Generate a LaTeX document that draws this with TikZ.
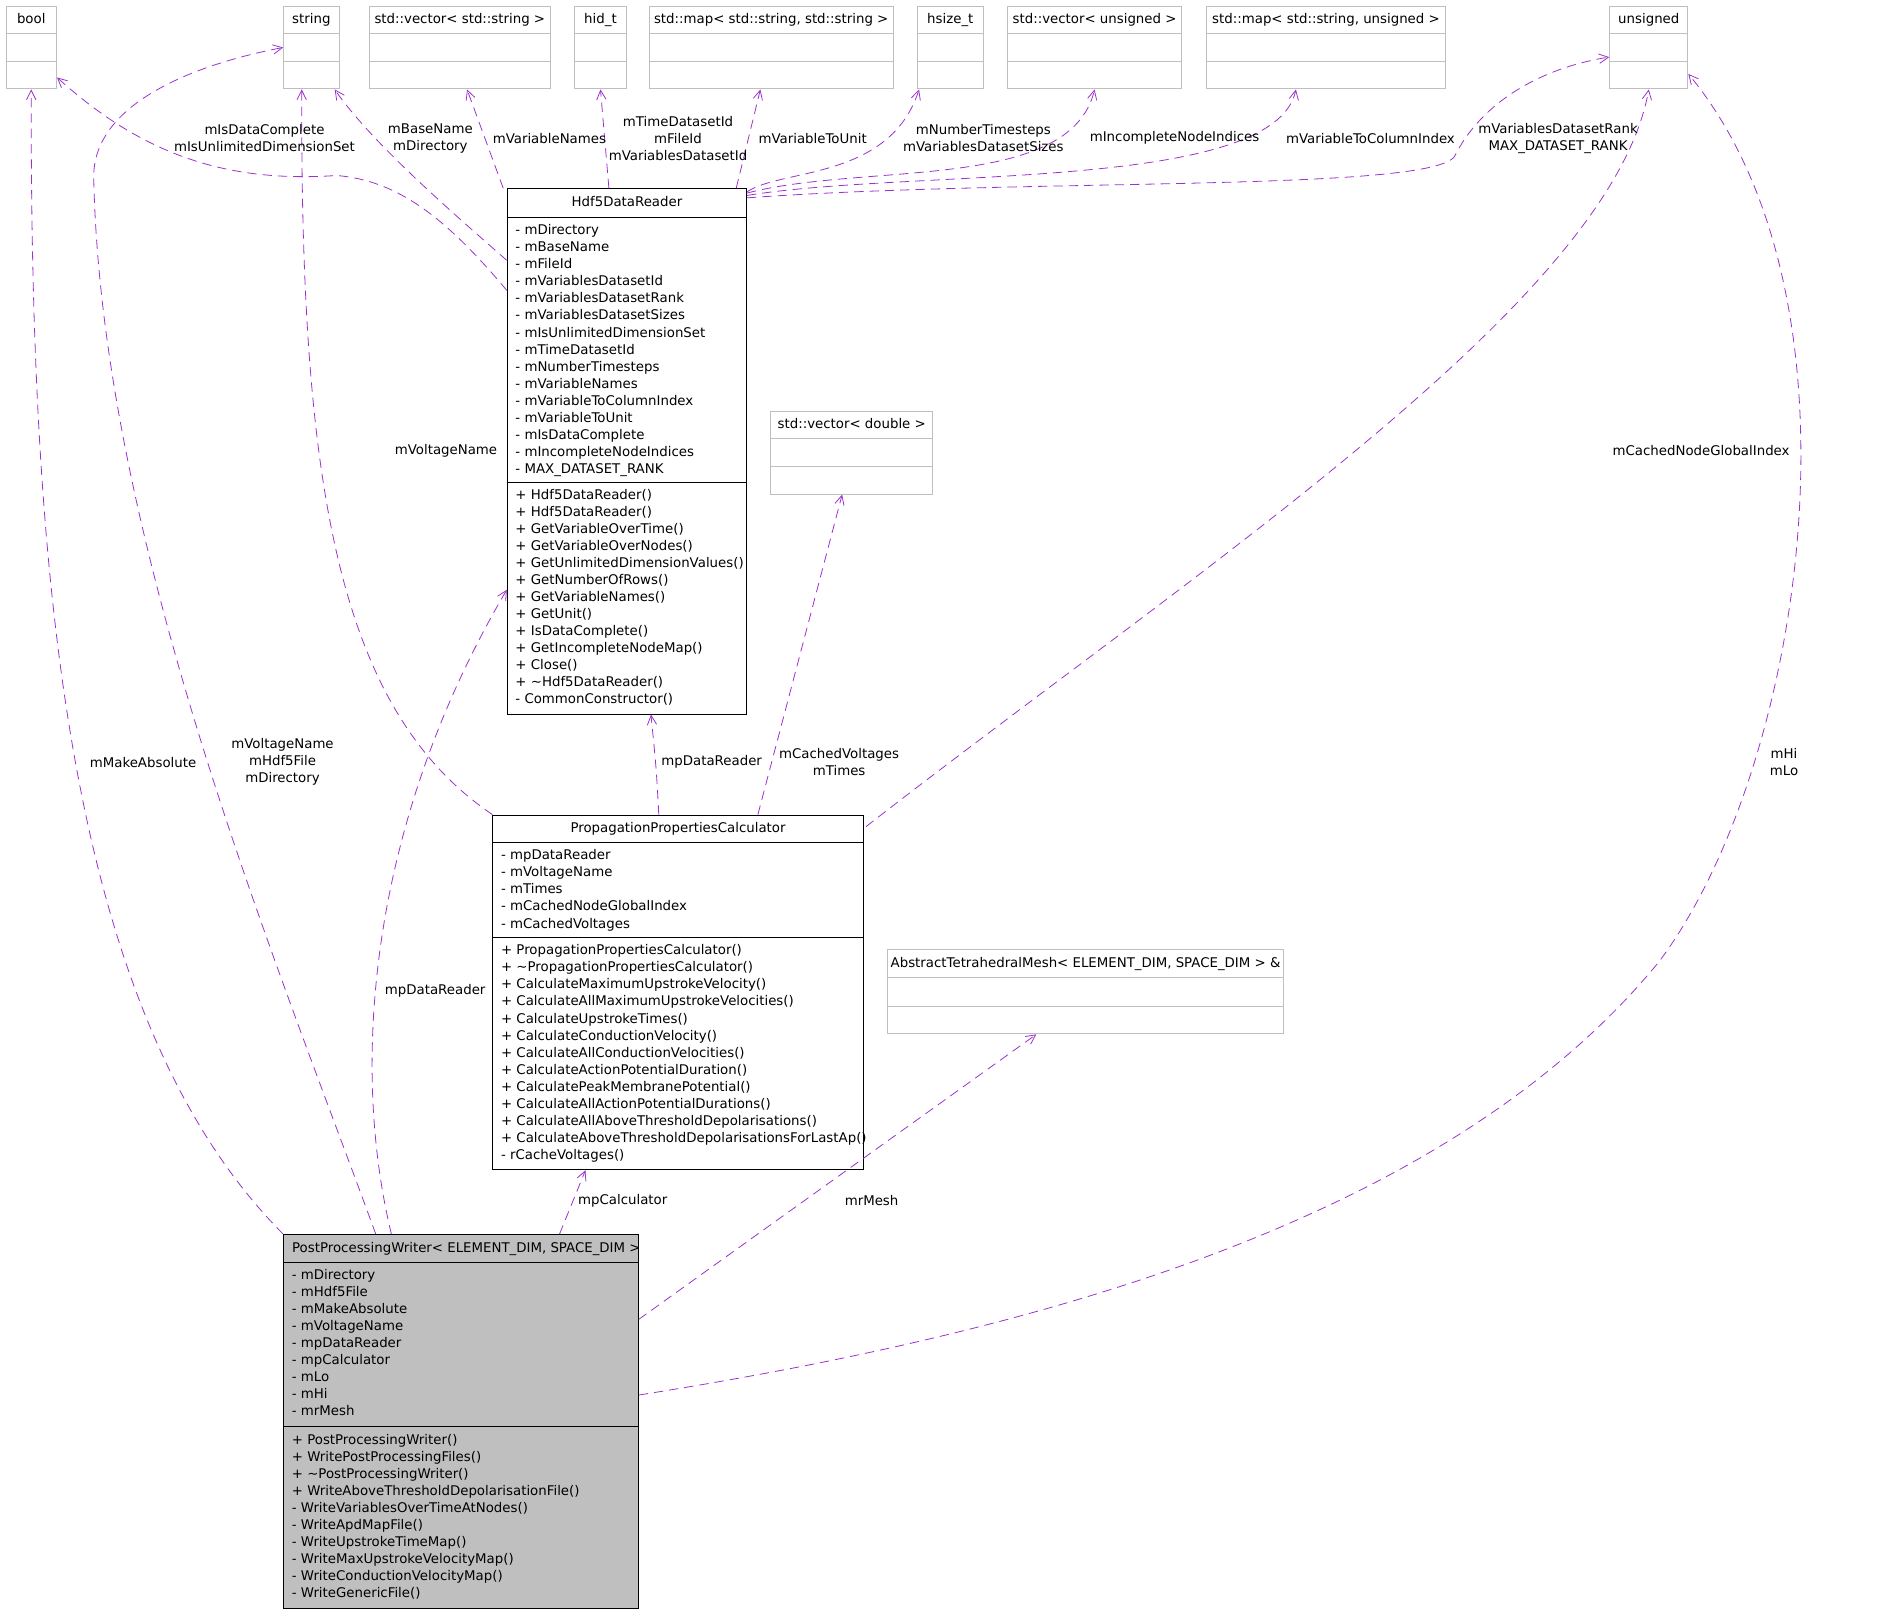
\documentclass[tikz,border=0pt]{standalone}
\usepackage{fontspec}
\setmainfont{DejaVu Sans}
\usetikzlibrary{arrows.meta,positioning,fit,calc}
\definecolor{depcol}{HTML}{9A32CD}
\definecolor{classgray}{HTML}{BFBFBF}
\newcommand{\umlclass}[9][extcls]{%
  \node[#1,fit={(#3) (#4)},inner sep=0pt,line width=0.75pt] (#2) {};
  \draw[#1 rule,line width=0.75pt] (#2.west |- 0,#5) -- (#2.east |- 0,#5);
  \draw[#1 rule,line width=0.75pt] (#2.west |- 0,#6) -- (#2.east |- 0,#6);
  \node[hdr] (#2-h) at ($(#2.north)+(0,15)$) {#7};
  \node[members] (#2-a) at (#2.west |- 0,#5) {#8};
  \node[members] (#2-m) at (#2.west |- 0,#6) {#9};
}

\begin{document}
\begin{tikzpicture}[x=0.9017pt,y=-0.9017pt,
  every node/.style={font=\fontsize{10}{12.8}\selectfont},
  extcls/.style={draw=classgray,fill=white},
  extcls rule/.style={draw=classgray},
  cls/.style={draw=black,fill=white},
  cls rule/.style={draw=black},
  maincls/.style={draw=black,fill=classgray},
  maincls rule/.style={draw=black},
  hdr/.style={anchor=base,inner sep=0pt},
  members/.style={anchor=north west,align=left,inner xsep=6.3pt,inner ysep=5pt},
  dep/.style={draw=depcol,dash pattern=on 7pt off 4.5pt,line width=0.6pt,-{Straight Barb[length=7pt,width=7pt]}},
  lbl/.style={align=center,inner sep=0pt}]
\useasboundingbox (0,0) rectangle (1568,1342);

\umlclass{bool}{5,5}{47,74}{28}{51}{bool}{}{}
\umlclass{string}{236,5}{282,74}{28}{51}{string}{}{}
\umlclass{vecstr}{307,5}{458,74}{28}{51}{std::vector< std::string >}{}{}
\umlclass{hidt}{478,5}{521,74}{28}{51}{hid\_t}{}{}
\umlclass{mapss}{540,5}{743,74}{28}{51}{std::map< std::string, std::string >}{}{}
\umlclass{hsize}{763,5}{818,74}{28}{51}{hsize\_t}{}{}
\umlclass{vecu}{838,5}{983,74}{28}{51}{std::vector< unsigned >}{}{}
\umlclass{mapsu}{1004,5}{1202,74}{28}{51}{std::map< std::string, unsigned >}{}{}
\umlclass{unsig}{1339,5}{1404,74}{28}{51}{unsigned}{}{}
\umlclass{vecdbl}{641,342}{776,411}{365}{388}{std::vector< double >}{}{}
\umlclass{mesh}{738,790}{1068,860}{813}{837}{AbstractTetrahedralMesh< ELEMENT\_DIM, SPACE\_DIM > \&}{}{}

\umlclass[cls]{hdf}{422,157}{621,594}{181}{401}{Hdf5DataReader}{%
- mDirectory\\- mBaseName\\- mFileId\\- mVariablesDatasetId\\- mVariablesDatasetRank\\%
- mVariablesDatasetSizes\\- mIsUnlimitedDimensionSet\\- mTimeDatasetId\\- mNumberTimesteps\\%
- mVariableNames\\- mVariableToColumnIndex\\- mVariableToUnit\\- mIsDataComplete\\%
- mIncompleteNodeIndices\\- MAX\_DATASET\_RANK}{%
+ Hdf5DataReader()\\+ Hdf5DataReader()\\+ GetVariableOverTime()\\+ GetVariableOverNodes()\\%
+ GetUnlimitedDimensionValues()\\+ GetNumberOfRows()\\+ GetVariableNames()\\+ GetUnit()\\%
+ IsDataComplete()\\+ GetIncompleteNodeMap()\\+ Close()\\+ \textasciitilde Hdf5DataReader()\\%
- CommonConstructor()}

\umlclass[cls]{ppc}{410,678}{718,973}{701}{780}{PropagationPropertiesCalculator}{%
- mpDataReader\\- mVoltageName\\- mTimes\\- mCachedNodeGlobalIndex\\- mCachedVoltages}{%
+ PropagationPropertiesCalculator()\\+ \textasciitilde PropagationPropertiesCalculator()\\%
+ CalculateMaximumUpstrokeVelocity()\\+ CalculateAllMaximumUpstrokeVelocities()\\%
+ CalculateUpstrokeTimes()\\+ CalculateConductionVelocity()\\+ CalculateAllConductionVelocities()\\%
+ CalculateActionPotentialDuration()\\+ CalculatePeakMembranePotential()\\%
+ CalculateAllActionPotentialDurations()\\+ CalculateAllAboveThresholdDepolarisations()\\%
+ CalculateAboveThresholdDepolarisationsForLastAp()\\- rCacheVoltages()}

\umlclass[maincls]{ppw}{236,1027}{531,1338}{1050}{1187}{\hspace*{8pt}PostProcessingWriter< ELEMENT\_DIM, SPACE\_DIM >}{%
- mDirectory\\- mHdf5File\\- mMakeAbsolute\\- mVoltageName\\- mpDataReader\\- mpCalculator\\%
- mLo\\- mHi\\- mrMesh}{%
+ PostProcessingWriter()\\+ WritePostProcessingFiles()\\+ \textasciitilde PostProcessingWriter()\\%
+ WriteAboveThresholdDepolarisationFile()\\- WriteVariablesOverTimeAtNodes()\\- WriteApdMapFile()\\%
- WriteUpstrokeTimeMap()\\- WriteMaxUpstrokeVelocityMap()\\- WriteConductionVelocityMap()\\%
- WriteGenericFile()}

\draw[dep] (ppw.north west) .. controls (60,850) and (25,500) .. (bool.south);
\draw[dep] ($(ppw.north west)+(77,0)$) .. controls (230,800) and (85,450) .. (78,150)
  .. controls (75,80) and (180,50) .. (string.west);
\draw[dep] ($(hdf.north west)+(0,85)$) .. controls (370,180) and (330,150) .. (280,146)
  .. controls (190,152) and (120,130) .. ($(bool.south east)+(0,-10)$);
\draw[dep] ($(hdf.north west)+(0,60)$) .. controls (380,180) and (310,120) .. ($(string.south east)+(-4,0)$);
\draw[dep] (ppc.north west) .. controls (280,590) and (250,400) .. ($(string.south)+(-8,0)$);
\draw[dep] ($(hdf.north west)+(-3,0)$) -- ($(vecstr.south)+(6,0)$);
\draw[dep] ($(hdf.north)+(-15,0)$) -- (hidt.south);
\draw[dep] ($(hdf.north east)+(-9,0)$) -- ($(mapss.south)+(-9,0)$);
\draw[dep] ($(hdf.north east)+(0,3)$) .. controls (650,140) and (740,150) .. ($(hsize.south)+(-26,0)$);
\draw[dep] ($(hdf.north east)+(0,4)$) .. controls (720,135) and (890,160) .. (vecu.south);
\draw[dep] ($(hdf.north east)+(0,6)$) .. controls (760,140) and (1060,160) .. ($(mapsu.south)+(-25,0)$);
\draw[dep] ($(hdf.north east)+(0,8)$) .. controls (850,148) and (1190,160) .. (1210,130)
  .. controls (1235,80) and (1290,55) .. ($(unsig.west)+(0,8)$);
\draw[dep] ($(ppc.north east)+(2,10)$) .. controls (1000,470) and (1340,250) .. (unsig.south);
\draw[dep] ($(ppw.south east)+(0,-178)$) .. controls (850,1110) and (1200,1020) .. (1380,800)
  .. controls (1500,640) and (1560,250) .. ($(unsig.east)+(0,22)$);
\draw[dep] ($(ppw.north west)+(90,0)$) .. controls (290,880) and (310,680) .. ($(hdf.north west)+(0,334)$);
\draw[dep] ($(ppc.north)+(-16,0)$) .. controls (546,640) .. ($(hdf.south)+(20,0)$);
\draw[dep] ($(ppc.north east)+(-88,0)$) -- ($(vecdbl.south)+(-8,0)$);
\draw[dep] ($(ppw.north east)+(-66,0)$) -- ($(ppc.south)+(-77,0)$);
\draw[dep] ($(ppw.south east)+(0,-241)$) -- ($(mesh.south)+(-41,0)$);

\node[lbl] (l-make) at (119,634) {mMakeAbsolute};
\node[lbl] (l-vname) at (235,634) {mVoltageName\\mHdf5File\\mDirectory};
\node[lbl] (l-iscomplete) at (220,115) {mIsDataComplete\\mIsUnlimitedDimensionSet};
\node[lbl] (l-basename) at (358,115) {mBaseName\\mDirectory};
\node[lbl] (l-varnames) at (457,115) {mVariableNames};
\node[lbl] (l-ids) at (564,115) {mTimeDatasetId\\mFileId\\mVariablesDatasetId};
\node[lbl] (l-tounit) at (676,115) {mVariableToUnit};
\node[lbl] (l-sizes) at (818,115) {mNumberTimesteps\\mVariablesDatasetSizes};
\node[lbl] (l-incomplete) at (977,115) {mIncompleteNodeIndices};
\node[lbl] (l-tocol) at (1140,115) {mVariableToColumnIndex};
\node[lbl] (l-rank) at (1296,115) {mVariablesDatasetRank\\MAX\_DATASET\_RANK};
\node[lbl] (l-vname2) at (371,375) {mVoltageName};
\node[lbl] (l-cached) at (1415,375) {mCachedNodeGlobalIndex};
\node[lbl] (l-reader) at (592,634) {mpDataReader};
\node[lbl] (l-volt) at (698,634) {mCachedVoltages\\mTimes};
\node[lbl] (l-hilo) at (1484,634) {mHi\\mLo};
\node[lbl] (l-reader2) at (362,824) {mpDataReader};
\node[lbl] (l-calc) at (518,999) {mpCalculator};
\node[lbl] (l-mesh) at (725,999) {mrMesh};
\end{tikzpicture}
\end{document}
